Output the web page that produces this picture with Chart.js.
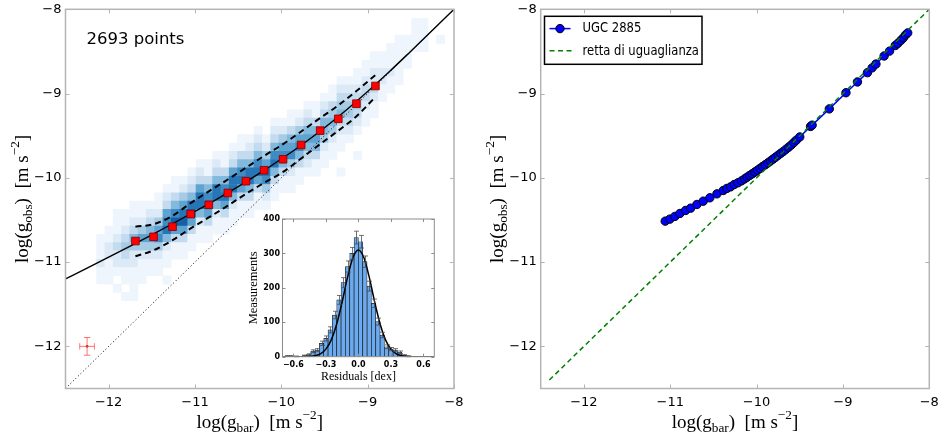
<!DOCTYPE html>
<html lang="it">
<head>
<meta charset="utf-8">
<title>Relazione di accelerazione radiale</title>
<script src="https://cdn.jsdelivr.net/npm/chart.js@4.4.1/dist/chart.umd.min.js"></script>
<style>
  html, body { margin: 0; padding: 0; background: #fff; }
  #figure { position: relative; width: 939px; height: 437px; overflow: hidden; }
  #figure canvas { position: absolute; }
</style>
</head>
<body>
<div id="figure">
  <canvas id="rarChart" width="470" height="437" style="left:0;top:0"></canvas>
  <canvas id="residChart" width="215" height="190" style="left:230px;top:205px"></canvas>
  <canvas id="ugcChart" width="469" height="437" style="left:470px;top:0"></canvas>
</div>
<script>
// ---------- data ----------
const axisTicks = [-12, -11, -10, -9, -8];
const residTicks = [-0.6, -0.3, 0, 0.3, 0.6];
const countTicks = [0, 100, 200, 300, 400];
const sampleLabel = '2693 points';

// binned means of the sample with upper / lower scatter
const binX     = [-11.69, -11.48, -11.26, -11.05, -10.84, -10.62, -10.41, -10.20, -9.98, -9.77, -9.55, -9.34, -9.13, -8.91];
const binY     = [-10.75, -10.70, -10.58, -10.43, -10.32, -10.18, -10.04, -9.91, -9.78, -9.61, -9.44, -9.30, -9.12, -8.91];
const binYHigh = [-10.58, -10.55, -10.45, -10.30, -10.16, -10.02, -9.88, -9.74, -9.60, -9.45, -9.29, -9.14, -8.97, -8.78];
const binYLow  = [-10.93, -10.86, -10.74, -10.60, -10.47, -10.33, -10.19, -10.06, -9.93, -9.77, -9.60, -9.44, -9.27, -9.04];

// fitted relation
const fitX = [-12.5, -12.25, -12, -11.75, -11.5, -11.25, -11, -10.75, -10.5, -10.25, -10, -9.75, -9.5, -9.25, -9, -8.75, -8.5, -8.25, -8];
const fitY = [-11.199, -11.071, -10.941, -10.809, -10.676, -10.539, -10.399, -10.255, -10.104, -9.945, -9.777, -9.598, -9.405, -9.197, -8.975, -8.741, -8.497, -8.250, -8.000];

// line of equality
const unityX = [-12.5, -8];

// typical uncertainty
const errX = -12.25, errY = -12.0, errDX = 0.085, errDY = 0.105;

// 2D histogram: bin size, then columns [x centre, y centre of top cell, levels downwards]
const cellW = 0.096, cellH = 0.0985;
const heatCols = [
  [-12.092, -10.719, [1, 1, 1, 2, 1, 1]],
  [-11.996, -10.621, [1, 1, 2, 2, 1, 1, 1]],
  [-11.900, -10.424, [1, 1, 1, 2, 3, 2, 2, 1, 0, 1]],
  [-11.804, -10.424, [1, 1, 2, 3, 4, 3, 2, 1, 1, 0, 1]],
  [-11.708, -10.325, [1, 1, 2, 3, 5, 4, 2, 2, 1, 1, 1]],
  [-11.612, -10.325, [1, 1, 2, 4, 6, 4, 2, 1, 1, 1]],
  [-11.516, -10.325, [1, 2, 3, 5, 6, 4, 2, 1, 1]],
  [-11.420, -10.227, [1, 1, 2, 4, 6, 7, 4, 2, 1, 1]],
  [-11.324, -10.128, [1, 2, 3, 6, 7, 8, 5, 2, 1, 1]],
  [-11.228, -10.030, [1, 1, 3, 5, 7, 9, 6, 3, 1, 1]],
  [-11.132, -10.030, [1, 2, 4, 6, 8, 9, 6, 3, 1, 1]],
  [-11.036, -9.931, [1, 2, 3, 5, 8, 9, 6, 3, 1, 1]],
  [-10.940, -9.833, [1, 2, 3, 6, 8, 8, 5, 2, 1, 1]],
  [-10.844, -9.833, [1, 1, 3, 5, 7, 8, 6, 3, 1, 1]],
  [-10.748, -9.734, [1, 2, 3, 5, 8, 8, 5, 2, 1, 1]],
  [-10.652, -9.734, [1, 1, 3, 5, 7, 8, 6, 3, 1, 1]],
  [-10.556, -9.636, [1, 2, 3, 6, 8, 8, 5, 2, 1, 1]],
  [-10.460, -9.537, [1, 1, 3, 5, 7, 8, 6, 3, 1, 1]],
  [-10.364, -9.537, [1, 2, 3, 5, 8, 8, 5, 3, 1, 1]],
  [-10.268, -9.439, [1, 2, 3, 5, 7, 8, 6, 3, 1, 1]],
  [-10.172, -9.537, [1, 2, 4, 6, 8, 7, 4, 2, 1]],
  [-10.076, -9.340, [1, 2, 3, 5, 7, 8, 5, 3, 1, 1]],
  [-9.980, -9.340, [1, 2, 4, 6, 7, 5, 3, 1, 1]],
  [-9.884, -9.242, [1, 1, 3, 5, 6, 7, 4, 2, 1, 1]],
  [-9.788, -9.242, [1, 2, 4, 6, 7, 5, 3, 1, 1]],
  [-9.692, -9.143, [1, 2, 3, 5, 6, 5, 3, 2, 1]],
  [-9.596, -9.143, [1, 1, 3, 5, 6, 5, 3, 1, 1]],
  [-9.500, -9.045, [1, 2, 3, 5, 5, 4, 2, 1, 1]],
  [-9.404, -8.946, [1, 1, 3, 4, 5, 4, 2, 1, 1]],
  [-9.308, -8.848, [1, 2, 3, 4, 5, 3, 2, 1, 1]],
  [-9.212, -8.848, [1, 2, 3, 4, 4, 3, 2, 1]],
  [-9.116, -8.749, [1, 1, 2, 3, 4, 3, 2, 1]],
  [-9.020, -8.651, [1, 1, 2, 3, 3, 2, 1, 1]],
  [-8.924, -8.552, [1, 1, 2, 2, 3, 2, 1, 1]],
  [-8.828, -8.552, [1, 1, 2, 2, 1, 1]],
  [-8.732, -8.454, [1, 1, 1, 2, 1, 1]],
  [-8.636, -8.355, [1, 1, 1, 1, 1, 1]],
  [-8.540, -8.355, [1, 1, 1, 1]],
  [-8.444, -8.158, [1, 1, 1, 1]],
  [-8.348, -8.158, [1, 1, 1, 1]],
  [-8.156, -8.355, [1]],
  [-9.308, -9.931, [1]],
  [-9.116, -9.734, [1]],
  [-11.708, -11.409, [1]],
  [-11.324, -11.212, [1]]
];
const heatShades = ['', '#eef5fc', '#dceaf7', '#c4dbef', '#a6cbe4', '#83b9dc', '#5fa3d1', '#3f8cc4', '#2676b7', '#1460a8'];

// residuals histogram (bin centres, counts, Poisson errors) and gaussian fit
const residCentres = [-0.66, -0.62, -0.58, -0.54, -0.50, -0.46, -0.42, -0.38, -0.34, -0.30, -0.26, -0.22, -0.18, -0.14, -0.10, -0.06, -0.02,
                      0.02, 0.06, 0.10, 0.14, 0.18, 0.22, 0.26, 0.30, 0.34, 0.38, 0.42, 0.46];
const residCounts  = [2, 2, 1, 0, 3, 6, 16, 19, 39, 53, 78, 121, 165, 215, 262, 300, 346,
                      334, 276, 205, 155, 102, 63, 29, 22, 19, 13, 4, 1];
const residErr     = [1.4, 1.4, 1, 0, 1.7, 2.4, 4, 4.4, 6.2, 7.3, 8.8, 11, 12.8, 14.7, 16.2, 17.3, 18.6,
                      18.3, 16.6, 14.3, 12.4, 10.1, 7.9, 5.4, 4.7, 4.4, 3.6, 2, 1];
const gaussX = [-0.70, -0.60, -0.50, -0.45, -0.40, -0.35, -0.30, -0.25, -0.20, -0.15, -0.10, -0.05, 0,
                0.05, 0.10, 0.15, 0.20, 0.25, 0.30, 0.35, 0.40, 0.45, 0.50, 0.60, 0.70];
const gaussY = [0, 0, 0, 1, 3, 8, 22, 49, 95, 159, 231, 288, 310, 288, 231, 159, 95, 49, 22, 8, 3, 1, 0, 0, 0];

// UGC 2885 rotation curve points
const ugcName = 'UGC 2885';
const unityName = 'retta di uguaglianza';
const ugcX = [-11.058, -11.004, -10.946, -10.888, -10.822, -10.764, -10.691, -10.618, -10.541, -10.459, -10.386, -10.344, -10.301, -10.259, -10.216, -10.174,
              -10.14, -10.11, -10.08, -10.05, -10.02, -9.99, -9.96, -9.93, -9.90, -9.87, -9.84, -9.81, -9.78, -9.75, -9.72, -9.69, -9.66, -9.63, -9.60, -9.57, -9.54, -9.50,
              -9.375, -9.357, -9.158, -8.965, -8.832, -8.716, -8.662, -8.618, -8.523, -8.460, -8.394, -8.365, -8.330, -8.300, -8.275, -8.250];
const ugcY = [-10.514, -10.490, -10.458, -10.423, -10.387, -10.360, -10.316, -10.277, -10.237, -10.190, -10.150, -10.126, -10.107, -10.079, -10.059, -10.036,
              -10.013, -9.993, -9.972, -9.952, -9.931, -9.910, -9.888, -9.866, -9.845, -9.823, -9.801, -9.778, -9.755, -9.732, -9.709, -9.686, -9.662, -9.637, -9.612, -9.582, -9.553, -9.515,
              -9.390, -9.375, -9.182, -8.990, -8.862, -8.752, -8.695, -8.650, -8.554, -8.496, -8.430, -8.405, -8.370, -8.338, -8.305, -8.280];
const unityUgcX = [-12.4, -8];

// ---------- helpers ----------
Chart.defaults.font.family = 'DejaVu Sans';
Chart.defaults.color = '#000';

const minus = v => String(v).replace('-', '\u2212');
const minusFixed = v => (v < 0 ? '\u2212' : '') + Math.abs(v).toFixed(1);
const pts = (xs, ys) => xs.map((x, i) => ({ x, y: ys[i] }));

const xTitle   = [{ t: 'log(g' }, { t: 'bar', sub: true }, { t: ')  [m s' }, { t: '\u22122', sup: true }, { t: ']' }];
const yTitle   = [{ t: 'log(g' }, { t: 'obs', sub: true }, { t: ')  [m s' }, { t: '\u22122', sup: true }, { t: ']' }];

function drawMath(ctx, parts, x, y, size, vertical) {
  ctx.save();
  ctx.translate(x, y);
  if (vertical) ctx.rotate(-Math.PI / 2);
  const font = p => `${(p.sub || p.sup) ? size * 0.7 : size}px "Liberation Serif"`;
  let total = 0;
  const widths = parts.map(p => { ctx.font = font(p); const w = ctx.measureText(p.t).width; total += w; return w; });
  let cx = -total / 2;
  ctx.fillStyle = '#000';
  ctx.textBaseline = 'alphabetic';
  parts.forEach((p, i) => {
    ctx.font = font(p);
    const dy = p.sub ? size * 0.24 : p.sup ? -size * 0.45 : 0;
    ctx.fillText(p.t, cx, dy);
    cx += widths[i];
  });
  ctx.restore();
}

// grey frame with inward ticks on all four sides
const frameTicks = {
  id: 'frameTicks',
  afterDatasetsDraw(chart, args, o) {
    const { ctx, chartArea: a, scales: { x, y } } = chart;
    ctx.save();
    ctx.strokeStyle = o.color;
    ctx.lineWidth = 1;
    ctx.beginPath();
    x.ticks.forEach(t => {
      const px = Math.round(x.getPixelForValue(t.value)) + 0.5;
      ctx.moveTo(px, a.bottom); ctx.lineTo(px, a.bottom - o.len);
      ctx.moveTo(px, a.top); ctx.lineTo(px, a.top + o.len);
    });
    y.ticks.forEach(t => {
      const py = Math.round(y.getPixelForValue(t.value)) + 0.5;
      ctx.moveTo(a.left, py); ctx.lineTo(a.left + o.len, py);
      ctx.moveTo(a.right, py); ctx.lineTo(a.right - o.len, py);
    });
    ctx.stroke();
    ctx.lineWidth = o.width;
    ctx.strokeRect(a.left, a.top, a.right - a.left, a.bottom - a.top);
    ctx.restore();
  }
};

function logScales(yWidth) {
  const ticks = { font: { family: 'DejaVu Sans', size: 13 }, color: '#000', maxRotation: 0, autoSkip: false, callback: minus };
  return {
    x: {
      type: 'linear', min: -12.5, max: -8,
      afterBuildTicks: s => { s.ticks = axisTicks.map(v => ({ value: v })); },
      afterFit: s => { s.height = 48.5; s.paddingLeft = 0; s.paddingRight = 0; },
      grid: { display: false, drawTicks: false }, border: { display: false },
      ticks: { ...ticks, padding: 6 }
    },
    y: {
      type: 'linear', min: -12.5, max: -8,
      afterBuildTicks: s => { s.ticks = axisTicks.map(v => ({ value: v })); },
      afterFit: s => { s.width = yWidth; s.paddingTop = 0; s.paddingBottom = 0; },
      grid: { display: false, drawTicks: false }, border: { display: false },
      ticks: { ...ticks, padding: 4 }
    }
  };
}

const common = {
  responsive: false,
  animation: false,
  devicePixelRatio: 1,
  events: []
};

// ---------- left panel: full sample ----------
const heatPoints = [];
heatCols.forEach(([x, yTop, levels]) => {
  levels.forEach((lv, i) => { if (lv) heatPoints.push({ x, y: yTop - i * cellH, lv }); });
});

const cellRadius = ctx => {
  const s = ctx.chart.scales.x;
  return (Math.abs(s.getPixelForValue(cellW) - s.getPixelForValue(0)) + 0.6) / Math.SQRT2;
};

const rarDecor = {
  id: 'rarDecor',
  afterDraw(chart) {
    const { ctx, chartArea: a } = chart;
    ctx.save();
    ctx.fillStyle = '#000';
    ctx.font = '16.5px "DejaVu Sans"';
    ctx.textBaseline = 'alphabetic';
    ctx.fillText(sampleLabel, a.left + 21, a.top + 35);
    ctx.restore();
    drawMath(ctx, xTitle, (a.left + a.right) / 2, 427.5, 19, false);
    drawMath(ctx, yTitle, a.left - 38, (a.top + a.bottom) / 2, 19, true);
  }
};

new Chart(document.getElementById('rarChart'), {
  type: 'scatter',
  data: {
    datasets: [
      { // binned means
        data: pts(binX, binY), order: 1,
        pointStyle: 'rect', pointRadius: 5.4,
        pointBackgroundColor: '#ff0000', pointBorderColor: '#7a0000', pointBorderWidth: 0.8
      },
      { // typical error, horizontal
        data: [{ x: errX - errDX, y: errY }, { x: errX + errDX, y: errY }], order: 2,
        showLine: true, borderColor: 'rgba(255,60,60,0.7)', borderWidth: 1,
        pointStyle: 'line', rotation: 90, pointRadius: 3.2, pointBorderColor: 'rgba(255,60,60,0.7)', pointBorderWidth: 1
      },
      { // typical error, vertical
        data: [{ x: errX, y: errY - errDY }, { x: errX, y: errY + errDY }], order: 2,
        showLine: true, borderColor: 'rgba(255,60,60,0.7)', borderWidth: 1,
        pointStyle: 'line', rotation: 0, pointRadius: 3.2, pointBorderColor: 'rgba(255,60,60,0.7)', pointBorderWidth: 1
      },
      {
        data: [{ x: errX, y: errY }], order: 2,
        pointRadius: 1.3, pointBackgroundColor: '#d00', pointBorderWidth: 0
      },
      { // scatter band
        data: pts(binX, binYHigh), order: 3, showLine: true, pointRadius: 0,
        borderColor: '#000', borderWidth: 2, borderDash: [6, 4], cubicInterpolationMode: 'monotone'
      },
      {
        data: pts(binX, binYLow), order: 3, showLine: true, pointRadius: 0,
        borderColor: '#000', borderWidth: 2, borderDash: [6, 4], cubicInterpolationMode: 'monotone'
      },
      { // fitted relation
        data: pts(fitX, fitY), order: 4, showLine: true, pointRadius: 0,
        borderColor: '#000', borderWidth: 1.4, cubicInterpolationMode: 'monotone'
      },
      { // 1:1
        data: pts(unityX, unityX), order: 5, showLine: true, pointRadius: 0,
        borderColor: '#000', borderWidth: 1, borderDash: [1, 2.5]
      },
      { // density map
        data: heatPoints, order: 6,
        pointStyle: 'rect', pointRadius: cellRadius, pointBorderWidth: 0,
        pointBackgroundColor: ctx => heatShades[ctx.raw.lv]
      }
    ]
  },
  options: {
    ...common,
    layout: { padding: { left: 0, top: 9.3, right: 16, bottom: 0 } },
    plugins: { legend: { display: false }, tooltip: { enabled: false }, frameTicks: { color: '#b4b4b4', width: 1.5, len: 4 } },
    scales: logScales(65.5)
  },
  plugins: [frameTicks, rarDecor]
});

// ---------- inset: residuals ----------
const residDecor = {
  id: 'residDecor',
  beforeDatasetsDraw(chart) {
    const { ctx, chartArea: a } = chart;
    ctx.save();
    ctx.fillStyle = '#fff';
    ctx.fillRect(a.left, a.top, a.right - a.left, a.bottom - a.top);
    ctx.restore();
  },
  afterDatasetsDraw(chart) {
    const { ctx, scales: { x, y } } = chart;
    ctx.save();
    ctx.strokeStyle = 'rgba(70,70,70,0.75)';
    ctx.lineWidth = 1;
    ctx.beginPath();
    residCentres.forEach((c, i) => {
      if (!residErr[i]) return;
      const px = Math.round(x.getPixelForValue(c)) + 0.5;
      const y0 = y.getPixelForValue(residCounts[i] - residErr[i]);
      const y1 = y.getPixelForValue(residCounts[i] + residErr[i]);
      ctx.moveTo(px, y0); ctx.lineTo(px, y1);
      ctx.moveTo(px - 2.5, y0); ctx.lineTo(px + 2.5, y0);
      ctx.moveTo(px - 2.5, y1); ctx.lineTo(px + 2.5, y1);
    });
    ctx.stroke();
    ctx.restore();
  },
  afterDraw(chart) {
    const { ctx, chartArea: a } = chart;
    ctx.save();
    ctx.fillStyle = '#000';
    ctx.textAlign = 'center';
    ctx.textBaseline = 'alphabetic';
    ctx.font = '12px "Liberation Serif"';
    ctx.fillText('Residuals [dex]', (a.left + a.right) / 2, 175);
    ctx.translate(a.left - 25.5, (a.top + a.bottom) / 2);
    ctx.rotate(-Math.PI / 2);
    ctx.font = '12.5px "Liberation Serif"';
    ctx.fillText('Measurements', 0, 0);
    ctx.restore();
  }
};

const insetTicks = { font: { family: 'DejaVu Sans', size: 8, weight: 'bold' }, color: '#000', maxRotation: 0, autoSkip: false };

new Chart(document.getElementById('residChart'), {
  type: 'bar',
  data: {
    datasets: [
      {
        type: 'line', data: pts(gaussX, gaussY), order: 1,
        borderColor: '#000', borderWidth: 1.5, pointRadius: 0, cubicInterpolationMode: 'monotone'
      },
      {
        type: 'bar', data: pts(residCentres, residCounts), order: 2,
        backgroundColor: '#6aaaf0', borderColor: '#1e1e1e', borderWidth: 0.7,
        barPercentage: 1, categoryPercentage: 1
      }
    ]
  },
  options: {
    ...common,
    layout: { padding: { left: 0, top: 14, right: 10.7, bottom: 0 } },
    plugins: { legend: { display: false }, tooltip: { enabled: false }, frameTicks: { color: '#8c8c8c', width: 1, len: 3 } },
    scales: {
      x: {
        type: 'linear', min: -0.7, max: 0.7, offset: false,
        afterBuildTicks: s => { s.ticks = residTicks.map(v => ({ value: v })); },
        afterFit: s => { s.height = 38.3; s.paddingLeft = 0; s.paddingRight = 0; },
        grid: { display: false, drawTicks: false }, border: { display: false },
        ticks: { ...insetTicks, padding: 3, callback: minusFixed }
      },
      y: {
        type: 'linear', min: 0, max: 400,
        afterBuildTicks: s => { s.ticks = countTicks.map(v => ({ value: v })); },
        afterFit: s => { s.width = 52.5; s.paddingTop = 0; s.paddingBottom = 0; },
        grid: { display: false, drawTicks: false }, border: { display: false },
        ticks: { ...insetTicks, padding: 2.5 }
      }
    }
  },
  plugins: [residDecor, frameTicks]
});

// ---------- right panel: UGC 2885 ----------
const ugcDecor = {
  id: 'ugcDecor',
  afterDraw(chart) {
    const { ctx, chartArea: a } = chart;
    drawMath(ctx, xTitle, (a.left + a.right) / 2, 427.5, 19, false);
    drawMath(ctx, yTitle, a.left - 38, (a.top + a.bottom) / 2, 19, true);

    // legend box
    const bx = a.left + 3.8, by = a.top + 7, bw = 157.5, bh = 48;
    ctx.save();
    ctx.fillStyle = '#fff';
    ctx.fillRect(bx, by, bw, bh);
    ctx.strokeStyle = '#000';
    ctx.lineWidth = 1.5;
    ctx.strokeRect(bx, by, bw, bh);
    const r1 = by + 12.3, r2 = by + 34.5;
    ctx.strokeStyle = '#0000ff';
    ctx.lineWidth = 1.5;
    ctx.beginPath(); ctx.moveTo(bx + 5, r1); ctx.lineTo(bx + 26, r1); ctx.stroke();
    ctx.fillStyle = '#0000ff';
    ctx.strokeStyle = '#000';
    ctx.lineWidth = 1;
    ctx.beginPath(); ctx.arc(bx + 15.5, r1, 4.2, 0, Math.PI * 2); ctx.fill(); ctx.stroke();
    ctx.strokeStyle = '#008000';
    ctx.lineWidth = 1.5;
    ctx.setLineDash([5, 3.5]);
    ctx.beginPath(); ctx.moveTo(bx + 5, r2); ctx.lineTo(bx + 27, r2); ctx.stroke();
    ctx.setLineDash([]);
    // narrow lettering in the legend
    ctx.fillStyle = '#000';
    ctx.font = '14.5px "DejaVu Sans"';
    ctx.textBaseline = 'middle';
    [[ugcName, r1], [unityName, r2]].forEach(([label, ry]) => {
      ctx.save();
      ctx.translate(bx + 38, ry);
      ctx.scale(0.8, 1);
      ctx.fillText(label, 0, 0);
      ctx.restore();
    });
    ctx.restore();
  }
};

new Chart(document.getElementById('ugcChart'), {
  type: 'scatter',
  data: {
    datasets: [
      {
        label: unityName, data: pts(unityUgcX, unityUgcX), order: 1,
        showLine: true, pointRadius: 0, borderColor: '#008000', borderWidth: 1.5, borderDash: [5, 3.5]
      },
      {
        label: ugcName, data: pts(ugcX, ugcY), order: 2,
        showLine: true, borderColor: '#0000ff', borderWidth: 1.5,
        pointRadius: 4.2, pointBackgroundColor: '#0000ff', pointBorderColor: '#000', pointBorderWidth: 1
      }
    ]
  },
  options: {
    ...common,
    layout: { padding: { left: 0, top: 9.3, right: 9.7, bottom: 0 } },
    plugins: { legend: { display: false }, tooltip: { enabled: false }, frameTicks: { color: '#b4b4b4', width: 1.5, len: 4 } },
    scales: logScales(70.7)
  },
  plugins: [frameTicks, ugcDecor]
});
</script>
</body>
</html>
